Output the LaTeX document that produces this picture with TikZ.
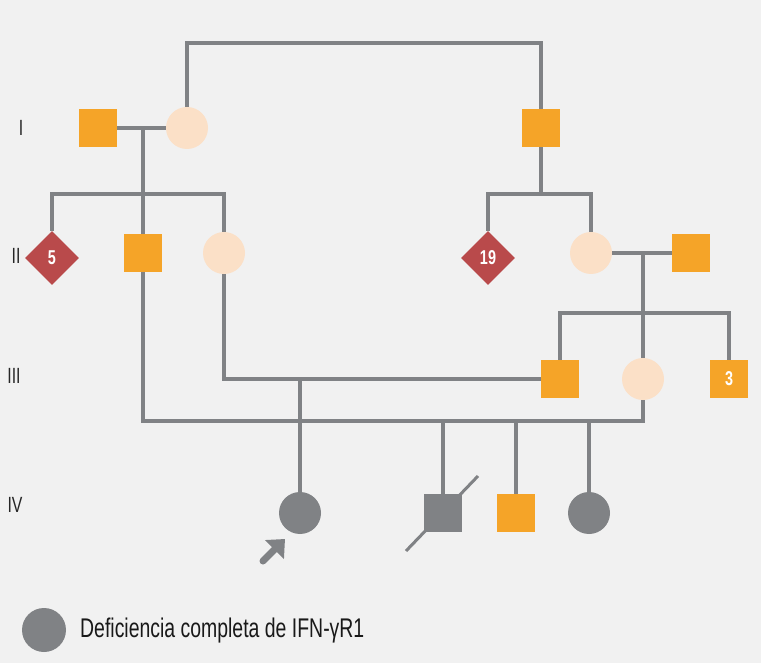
\documentclass[tikz,border=0pt]{standalone}
\usepackage{fontspec}
\usepackage{xcolor}
\usetikzlibrary{shapes.geometric,arrows.meta}

\newfontfamily\narrowsans[FakeStretch=0.72]{Liberation Sans}

\definecolor{bggray}{RGB}{241,241,241}
\definecolor{pedgray}{RGB}{128,130,133}
\definecolor{malecol}{RGB}{245,164,40}
\definecolor{femalecol}{RGB}{251,224,199}
\definecolor{unkcol}{RGB}{185,74,75}

\begin{document}
\begin{tikzpicture}[x=1pt, y=-1pt,
	male/.style={rectangle, fill=malecol, minimum size=38pt, inner sep=0pt,
		text=white, font=\narrowsans\bfseries\fontsize{20}{20}\selectfont},
	female/.style={circle, fill=femalecol, minimum size=42pt, inner sep=0pt},
	sibs/.style={diamond, fill=unkcol, minimum size=54pt, inner sep=0pt,
		text=white, font=\narrowsans\bfseries\fontsize{20}{20}\selectfont},
	affsq/.style={rectangle, fill=pedgray, minimum size=38pt, inner sep=0pt},
	affci/.style={circle, fill=pedgray, minimum size=42pt, inner sep=0pt},
	line/.style={draw=pedgray, line width=3.5pt},
	gen/.style={font=\narrowsans\fontsize{22}{22}\selectfont, text=black!85, inner sep=0pt}]
	
	% background
	\fill[bggray] (0,0) rectangle (761,663);
	\useasboundingbox (0,0) rectangle (761,663);
	
	% generation labels
	\node[gen] (gI) at (21,128) {I};
	\node[gen] (gII) at (16,256) {II};
	\node[gen] (gIII) at (14,376) {III};
	\node[gen] (gIV) at (15,505) {IV};
	
	% helper levels
	\coordinate (top) at (0,43);
	\coordinate (sibA) at (0,194);
	\coordinate (sibB) at (0,313);
	\coordinate (sibC) at (0,421);
	
	% generation I
	\node[male] (I1) at (98,128) {};
	\node[female] (I2) at (187,128) {};
	\node[male] (I3) at (541,128) {};
	
	% generation II
	\node[sibs] (II1) at (52,258) {5};
	\node[male] (II2) at (143,253) {};
	\node[female] (II3) at (224,253) {};
	\node[sibs] (II4) at (488,258) {19};
	\node[female] (II5) at (591,253) {};
	\node[male] (II6) at (691,253) {};
	
	% generation III
	\node[male] (III1) at (560,379) {};
	\node[female] (III2) at (643,379) {};
	\node[male] (III3) at (729,379) {3};
	
	% generation IV
	\node[affci] (IV1) at (300,513) {};
	\node[affsq] (IV2) at (443,513) {};
	\node[male] (IV3) at (516,513) {};
	\node[affci] (IV4) at (589,513) {};
	
	% lines generation I
	\draw[line] (I2) -- (I2 |- top) -| (I3);
	\draw[line] (I1) -- (I2);
	\draw[line] (II2 |- I1) -- (II2);
	\draw[line] (II1) |- (II3 |- sibA) -- (II3);
	\draw[line] (I3) -- (I3 |- sibA);
	\draw[line] (II4) |- (II5 |- sibA) -- (II5);
	
	% lines generation II
	\draw[line] (II5) -- (II6);
	\draw[line] (III2 |- II5) -- (III2);
	\draw[line] (III1) |- (III3 |- sibB) -- (III3);
	
	% lines generation III
	\draw[line] (II3) |- (III1);
	\draw[line] (IV1 |- III1) -- (IV1);
	\draw[line] (II2) |- (III2 |- sibC) -- (III2);
	\draw[line] (IV2 |- sibC) -- (IV2);
	\draw[line] (IV3 |- sibC) -- (IV3);
	\draw[line] (IV4 |- sibC) -- (IV4);
	
	% deceased
	\draw[draw=pedgray, line width=3pt] ([shift={(-37,38)}]IV2.center) -- ([shift={(35,-37)}]IV2.center);
	
	% proband arrow
	\coordinate (arrtail) at (263,561);
	\coordinate (arrtip) at (285,539);
	\draw[draw=pedgray, line width=7pt, line cap=round,
		-{Triangle[length=15pt, width=26pt, fill=pedgray]}] (arrtail) -- (arrtip);
	
	% legend
	\node[affci, minimum size=44pt] (key) at (44,630) {};
	\node[anchor=west, inner sep=0pt, text=black!90,
		font=\narrowsans\fontsize{27}{27}\selectfont] (keytext) at (80,631) {Deficiencia completa de IFN-γR1};
	
\end{tikzpicture}
\end{document}
